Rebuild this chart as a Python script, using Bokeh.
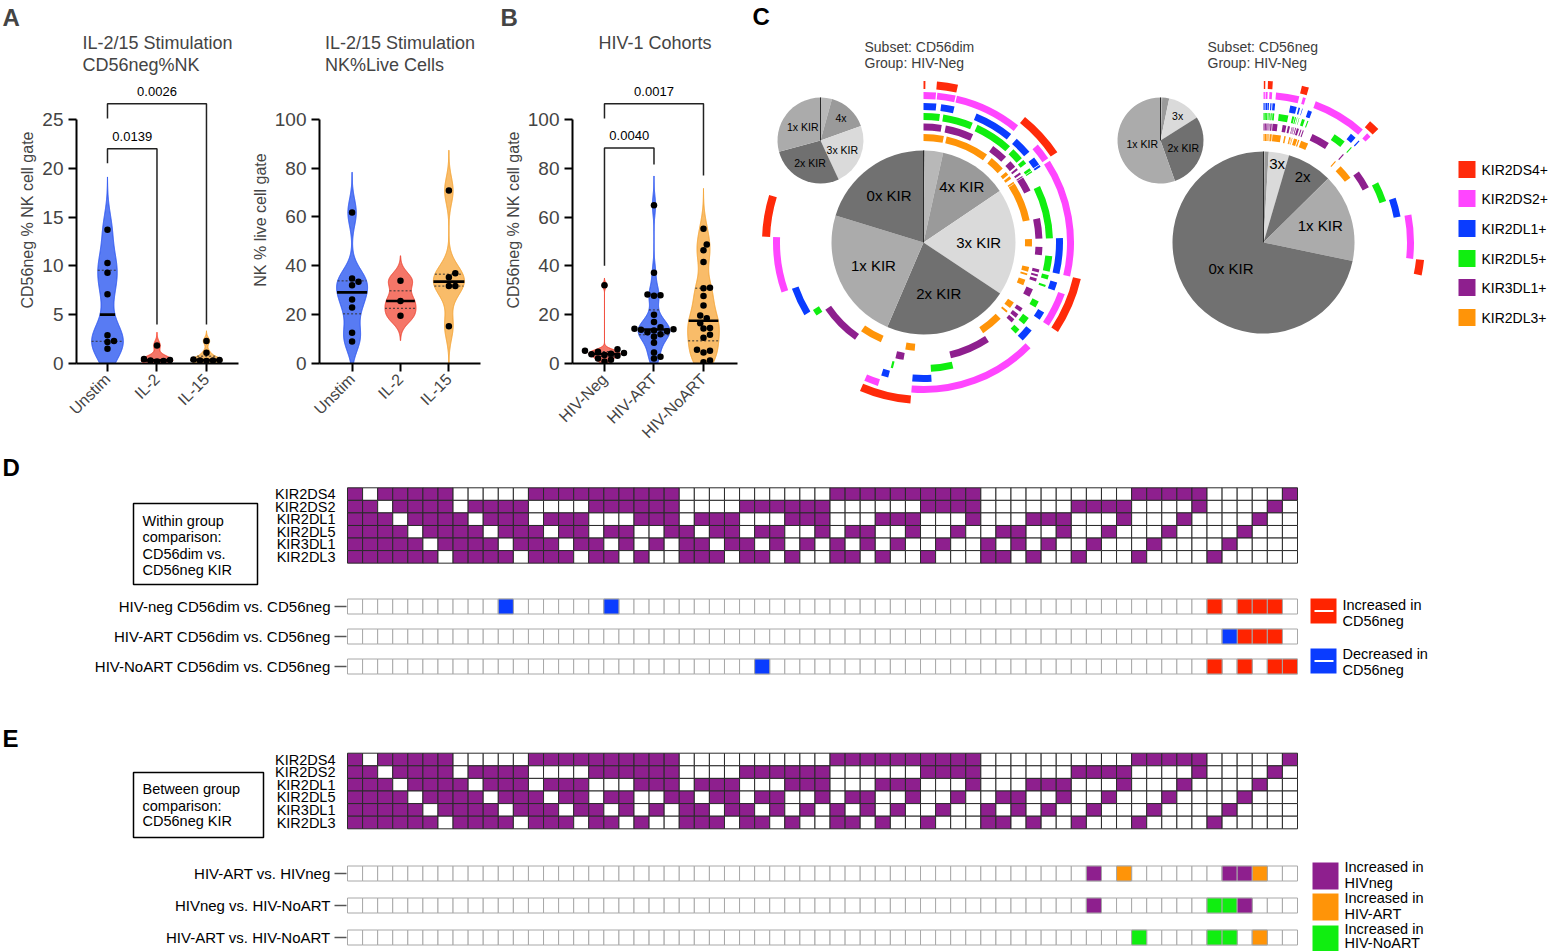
import numpy as np
from bokeh.plotting import figure
from bokeh.models import Range1d, FixedTicker, Title
from bokeh.layouts import column, row
from bokeh.embed import file_html
from bokeh.resources import INLINE
from bokeh.core.properties import value

FONT = "Liberation Sans"

# ---------------- data ----------------
A1_CATS = ["Unstim", "IL-2", "IL-15"]
A1_UNSTIM = [13.7, 10.3, 9.3, 7.1, 2.9, 2.3, 2.2, 1.5]
A1_IL2 = [1.85, 0.45, 0.35, 0.3, 0.25, 0.2]
A1_IL15 = [2.3, 1.1, 0.4, 0.35, 0.3, 0.3, 0.25]
A1_PAIRS = [(1, 2), (1, 3)]
A1_PVALS = ["0.0139", "0.0026"]
A1_BRACKET_Y = [22.0, 26.6]
A1_LEG_ENDS = [(20.5, 4.0), (25.1, 4.0)]

A2_CATS = ["Unstim", "IL-2", "IL-15"]
A2_UNSTIM = [61.8, 34.8, 33.5, 32.0, 26.2, 22.9, 12.6, 9.0]
A2_IL2 = [33.9, 25.6, 19.6]
A2_IL15 = [70.8, 37.0, 35.3, 31.7, 31.7, 15.3]

B_CATS = ["HIV-Neg", "HIV-ART", "HIV-NoART"]
B_NEG = [32.0, 5.8, 5.2, 4.8, 4.3, 4.0, 3.8, 3.5, 3.2, 2.0, 1.5, 0.8]
B_ART = [64.8, 37.2, 28.3, 28.0, 27.8, 20.0, 17.0, 14.8, 14.2, 14.0, 13.8,
         13.5, 13.2, 12.8, 12.0, 11.0, 8.5, 4.5, 2.8, 2.0]
B_NOART = [55.2, 48.7, 46.4, 41.6, 31.0, 30.8, 27.6, 23.8, 19.7, 18.5, 16.5,
           14.5, 14.3, 11.8, 10.5, 5.6, 5.2, 4.5, 1.2, 0.5]
B_PAIRS = [(1, 2), (1, 3)]
B_PVALS = ["0.0040", "0.0017"]
B_BRACKET_Y = [88.3, 106.4]
B_LEG_ENDS = [(40.0, 81.5), (100.3, 77.0)]

KIR_NAMES = ["KIR2DS4", "KIR2DS2", "KIR2DL1", "KIR2DL5", "KIR3DL1", "KIR2DL3"]
KIR_COMBOS = [
    "111111",
    "011111", "101111", "110111", "111011", "111101", "111110",
    "001111", "010111", "011011", "011101", "011110", "100111", "101011",
    "101101", "101110", "110011", "110101", "110110", "111001", "111010", "111100",
    "000111", "001011", "001101", "001110", "010011", "010101", "010110",
    "011001", "011010", "011100", "100011", "100101", "100110", "101001",
    "101010", "101100", "110001", "110010", "110100", "111000",
    "000011", "000101", "000110", "001001", "001010", "001100", "010001",
    "010010", "010100", "011000", "100001", "100010", "100100", "101000", "110000",
    "000001", "000010", "000100", "001000", "010000", "100000",
]
# % of cells per KIR combination (same order as KIR_COMBOS), plus 0x KIR
SPICE_DIM = [0.19,
             1.14, 0.14, 0.56, 0.42, 0.56, 0.42,
             0.14, 2.64, 0.64, 3.11, 0.86, 0.83, 0.56, 0.83, 0.69, 0.28, 0.28, 0.28, 0.42, 0.28, 0.28,
             0.08, 0.08, 0.08, 0.08, 1.94, 3.89, 2.78, 1.11, 1.11, 1.94,
             0.42, 0.28, 0.28, 0.28, 0.42, 0.28, 0.83, 1.11, 0.83, 0.97,
             0.56, 0.42, 0.56, 0.28, 0.56, 0.69, 3.33, 5.56, 2.78, 2.22, 1.39, 1.11, 0.28, 0.83, 1.53,
             3.33, 5.69, 0.83, 3.33, 5.97, 4.17]
SPICE_DIM_ZERO = 20.25
SPICE_NEG = [0.02,
             0.03, 0.02, 0.03, 0.02, 0.03, 0.03,
             0.06, 0.05, 0.04, 0.06, 0.05, 0.04, 0.06, 0.05, 0.04, 0.05, 0.06, 0.04, 0.05, 0.05, 0.04,
             0.11, 0.08, 0.11, 0.11, 0.56, 0.69, 0.50, 0.22, 0.28, 0.25,
             0.08, 0.08, 0.06, 0.06, 0.06, 0.06, 0.08, 0.11, 0.06, 0.06,
             0.28, 0.22, 0.14, 0.19, 0.14, 0.14, 1.11, 2.50, 1.53, 0.69, 0.17, 0.17, 0.14, 0.14, 0.50,
             2.22, 2.50, 2.50, 2.22, 4.72, 1.53]
SPICE_NEG_ZERO = 71.8

D_ROWS = ["HIV-neg CD56dim vs. CD56neg", "HIV-ART CD56dim vs. CD56neg",
          "HIV-NoART CD56dim vs. CD56neg"]
D_UP = [[58, 60, 61, 62], [60, 61, 62], [58, 60, 62, 63]]
D_DOWN = [[11, 18], [59], [28]]

E_ROWS = ["HIV-ART vs. HIVneg", "HIVneg vs. HIV-NoART", "HIV-ART vs. HIV-NoART"]
E_COLS = [[50, 52, 59, 60, 61], [50, 58, 59, 60], [53, 58, 59, 61]]
E_WINNER = [["HIVneg", "HIV-ART", "HIVneg", "HIVneg", "HIV-ART"],
            ["HIVneg", "HIV-NoART", "HIV-NoART", "HIVneg"],
            ["HIV-NoART", "HIV-NoART", "HIV-NoART", "HIV-ART"]]

# ---------------- styles ----------------
BLUE_F, BLUE_L = "#4A70F2", "#2B55F0"
RED_F, RED_L = "#F46A5B", "#F0402E"
ORA_F, ORA_L = "#F9B65C", "#F3A232"
PURPLE = "#8E1F8E"
KIR_COLORS = ["#FF2A0A", "#FF45FF", "#0A3CFF", "#10EE10", "#8E1F8E", "#FF9408"]
RING_R = [157.5, 147.0, 136.0, 126.0, 115.5, 105.0]
RING_T = [8.0, 7.0, 7.0, 7.0, 7.0, 7.0]
GROUP_GREY = {6: "#333333", 5: "#b8b8b8", 4: "#9a9a9a", 3: "#dadada",
              2: "#707070", 1: "#ababab", 0: "#717171"}
WIN_COLORS = {"HIVneg": PURPLE, "HIV-ART": "#FF9408", "HIV-NoART": "#10EE10"}

TOP_H = 450
FT, FB = 76, 86


def txt(p, x, y, t, size, align="left", baseline="middle", color="black",
        style="normal", yoff=0):
    p.text(x=list(x), y=list(y), text=list(t), text_align=align,
           text_baseline=baseline, text_font=value(FONT), text_font_size=size,
           text_color=color, text_font_style=style, y_offset=yoff)


def swarm(vals, sx, sy, d):
    vals = np.asarray(vals, float)
    cands = [0.0]
    for k in range(1, 14):
        cands += [k * 0.5 * d, -k * 0.5 * d]
    placed, off = [], np.zeros(len(vals))
    for i in np.argsort(vals):
        ypx = vals[i] * sy
        for c in cands:
            if all((c - a) ** 2 + (ypx - b) ** 2 >= (0.92 * d) ** 2 for a, b in placed):
                break
        placed.append((c, ypx))
        off[i] = c / sx
    return off


def violin_panel(width, bl, br, xr, yr, ybounds, yticks, ylabel, cats, groups,
                 bws, fills, lines, pairs, pvals, by, legs, title,
                 letter=None, letter_off=0):
    p = figure(width=width, height=TOP_H, x_range=Range1d(*xr), y_range=Range1d(*yr),
               min_border_left=bl, min_border_right=br, min_border_top=FT,
               min_border_bottom=FB, output_backend="svg", toolbar_location=None,
               title=None)
    p.xgrid.visible = False
    p.ygrid.visible = False
    p.outline_line_color = None
    p.background_fill_color = None
    p.border_fill_color = "white"
    p.add_layout(Title(text=title, align="center", text_font=FONT, text_font_size="18px",
                       text_font_style="normal", standoff=2,
                       text_line_height=1.12), "above")
    if letter:
        p.add_layout(Title(text=letter, align="left", offset=letter_off, text_font=FONT,
                           text_font_size="24px", text_font_style="bold", standoff=0,
                           text_line_height=1.0), "above")
    for ax in (p.xaxis[0], p.yaxis[0]):
        ax.axis_line_width = 2
        ax.major_tick_line_width = 2
        ax.major_tick_out = 8
        ax.major_tick_in = 0
        ax.minor_tick_line_color = None
        ax.major_label_text_font = FONT
        ax.axis_line_color = "black"
        ax.major_tick_line_color = "black"
    p.yaxis.bounds = ybounds
    p.yaxis.ticker = FixedTicker(ticks=yticks)
    p.yaxis.major_label_text_font_size = "19px"
    p.yaxis.axis_label = ylabel
    p.yaxis.axis_label_text_font = FONT
    p.yaxis.axis_label_text_font_size = "16px"
    p.yaxis.axis_label_text_font_style = "normal"
    p.yaxis.axis_label_standoff = 3
    p.xaxis.ticker = FixedTicker(ticks=[1, 2, 3])
    p.xaxis.major_label_overrides = {1: cats[0], 2: cats[1], 3: cats[2]}
    p.xaxis.major_label_orientation = np.pi / 4
    p.xaxis.major_label_text_font_size = "16px"

    fw = width - bl - br
    fh = TOP_H - FT - FB
    sx = fw / (xr[1] - xr[0])
    sy = fh / (yr[1] - yr[0])
    for i, (vals, bw, fc, lc) in enumerate(zip(groups, bws, fills, lines)):
        xc = i + 1
        v = np.asarray(vals, float)
        lo = max(0.0, v.min() - 3 * bw)
        hi = v.max() + 3 * bw
        ys = np.linspace(lo, hi, 400)
        dens = np.exp(-0.5 * ((ys[:, None] - v[None, :]) / bw) ** 2).sum(axis=1)
        w = dens / dens.max() * 0.32
        px = np.concatenate([xc - w, (xc + w)[::-1]])
        py = np.concatenate([ys, ys[::-1]])
        p.patch(px, py, fill_color=fc, fill_alpha=0.92, line_color=lc, line_width=1)
        q1, med, q3 = np.percentile(v, [25, 50, 75])
        for q in (q1, q3):
            hw = np.interp(q, ys, w)
            p.segment(x0=[xc - hw], y0=[q], x1=[xc + hw], y1=[q], line_color="#333333",
                      line_width=1, line_dash="2 2")
        hw = np.interp(med, ys, w)
        p.segment(x0=[xc - hw], y0=[med], x1=[xc + hw], y1=[med], line_color="black",
                  line_width=2.6)
        off = swarm(v, sx, sy, 6.5)
        p.scatter(x=xc + off, y=v, size=6.5, fill_color="black", line_color=None)
    for (g1, g2), t, yb, (l1, l2) in zip(pairs, pvals, by, legs):
        p.multi_line(xs=[[g1, g1, g2, g2]], ys=[[l1, yb, yb, l2]], line_color="#222222",
                     line_width=1.5)
        txt(p, [(g1 + g2) / 2], [yb], [t], "13px", align="center", baseline="bottom",
            yoff=-8)
    return p


pA1 = violin_panel(248, 76, 10, (0.374, 3.647), (0, 29.39), (0, 25), [0, 5, 10, 15, 20, 25],
                   "CD56neg % NK cell gate", A1_CATS, [A1_UNSTIM, A1_IL2, A1_IL15],
                   [1.8, 0.45, 0.35], [BLUE_F, RED_F, ORA_F], [BLUE_L, RED_L, ORA_L],
                   A1_PAIRS, A1_PVALS, A1_BRACKET_Y, A1_LEG_ENDS,
                   "IL-2/15 Stimulation\nCD56neg%NK", "A", -74)
pA2 = violin_panel(242, 69, 10, (0.327, 3.653), (0, 117.5), (0, 100), [0, 20, 40, 60, 80, 100],
                   "NK % live cell gate", A2_CATS, [A2_UNSTIM, A2_IL2, A2_IL15],
                   [5.5, 3.4, 5.5], [BLUE_F, RED_F, ORA_F], [BLUE_L, RED_L, ORA_L],
                   [], [], [], [], "IL-2/15 Stimulation\nNK%Live Cells")
pB = violin_panel(255, 82, 8, (0.354, 3.687), (0, 117.55), (0, 100), [0, 20, 40, 60, 80, 100],
                  "CD56neg % NK cell gate", B_CATS, [B_NEG, B_ART, B_NOART],
                  [1.0, 4.0, 5.5], [RED_F, BLUE_F, ORA_F], [RED_L, BLUE_L, ORA_L],
                  B_PAIRS, B_PVALS, B_BRACKET_Y, B_LEG_ENDS, "HIV-1 Cohorts\n\u00a0",
                  "B", -72)

# ---------------- panel C (SPICE pies) ----------------
C_W, C_X0 = 812, 745
pC = figure(width=C_W, height=TOP_H, x_range=Range1d(0, C_W), y_range=Range1d(0, TOP_H),
            x_axis_location=None, y_axis_location=None, min_border=0,
            output_backend="svg", toolbar_location=None, title=None)
pC.outline_line_color = None
pC.grid.visible = False


def cX(ref_x):
    return ref_x - C_X0


def cY(ref_y):
    return TOP_H - ref_y


def spice(p, cx0, cy0, r, freqs, zero, labels, fracs, size, rings):
    counts = [c.count("1") for c in KIR_COMBOS]
    vals = list(freqs)
    if zero is not None:
        counts = counts + [0]
        vals = vals + [zero]
    vals = np.asarray(vals, float)
    edges = np.concatenate([[0.0], np.cumsum(vals) / vals.sum() * 2 * np.pi])
    st, en, cols, lx, ly, lt = [], [], [], [], [], []
    for k in [6, 5, 4, 3, 2, 1, 0]:
        idx = [i for i, c in enumerate(counts) if c == k]
        if not idx:
            continue
        a0, a1 = edges[idx[0]], edges[idx[-1] + 1]
        st.append(np.pi / 2 - a0)
        en.append(np.pi / 2 - a1)
        cols.append(GROUP_GREY[k])
        if k in labels:
            mid = (a0 + a1) / 2
            lx.append(cx0 + fracs[k] * r * np.sin(mid))
            ly.append(cy0 + fracs[k] * r * np.cos(mid))
            lt.append(labels[k])
    p.wedge(x=cx0, y=cy0, radius=r, start_angle=st, end_angle=en, direction="clock",
            fill_color=cols, line_color=None)
    p.segment(x0=[cx0], y0=[cy0], x1=[cx0], y1=[cy0 + r], line_color="#2a2a2a",
              line_width=1)
    txt(p, lx, ly, lt, size, align="center")
    if rings:
        for j in range(6):
            pos = [c[j] == "1" for c in KIR_COMBOS] + [False]
            runs, i = [], 0
            while i < len(pos):
                if pos[i]:
                    s = i
                    while i < len(pos) and pos[i]:
                        i += 1
                    runs.append((edges[s], edges[i]))
                else:
                    i += 1
            p.annular_wedge(x=cx0, y=cy0, inner_radius=RING_R[j] - RING_T[j] / 2,
                            outer_radius=RING_R[j] + RING_T[j] / 2,
                            start_angle=[np.pi / 2 - a for a, _ in runs],
                            end_angle=[np.pi / 2 - b for _, b in runs],
                            direction="clock", fill_color=KIR_COLORS[j], line_color=None)


spice(pC, cX(923), cY(242), 92, SPICE_DIM, SPICE_DIM_ZERO,
      {4: "4x KIR", 3: "3x KIR", 2: "2x KIR", 1: "1x KIR", 0: "0x KIR"},
      {4: 0.74, 3: 0.6, 2: 0.58, 1: 0.6, 0: 0.63}, "15px", True)
spice(pC, cX(820), cY(140), 43, SPICE_DIM, None,
      {4: "4x", 3: "3x KIR", 2: "2x KIR", 1: "1x KIR"},
      {4: 0.7, 3: 0.55, 2: 0.58, 1: 0.52}, "10.5px", False)
spice(pC, cX(1263), cY(242), 91, SPICE_NEG, SPICE_NEG_ZERO,
      {3: "3x", 2: "2x", 1: "1x KIR", 0: "0x KIR"},
      {3: 0.88, 2: 0.84, 1: 0.65, 0: 0.46}, "15px", True)
spice(pC, cX(1160), cY(140), 43, SPICE_NEG, None,
      {3: "3x", 2: "2x KIR", 1: "1x KIR"},
      {3: 0.7, 2: 0.56, 1: 0.43}, "10.5px", False)

txt(pC, [cX(864), cX(864), cX(1207), cX(1207)], [cY(46), cY(62), cY(46), cY(62)],
    ["Subset: CD56dim", "Group: HIV-Neg", "Subset: CD56neg", "Group: HIV-Neg"],
    "14px", color="#3c3c3c")
txt(pC, [cX(752)], [cY(16)], ["C"], "24px", style="bold")
LEG_Y = [169, 198, 228, 258, 287, 317]
pC.rect(x=cX(1466.5), y=[cY(v) for v in LEG_Y], width=17, height=17, fill_color=KIR_COLORS,
        line_color=None)
txt(pC, [cX(1481)] * 6, [cY(v) for v in LEG_Y], [k + "+" for k in KIR_NAMES], "14px")

# ---------------- panels D and E (heat maps) ----------------
CELL_W = 950 / 63
GRID_X0 = 347
FULL_W = 1557
XS = 0.5 - GRID_X0 / CELL_W
XE = XS + FULL_W / CELL_W


def cx(ref_x):
    return 0.5 + (ref_x - GRID_X0) / CELL_W


def heat_panel(top_ref, height, grid_top, row_h, letter, letter_y, box, box_lines,
               comp_labels, comp_y, comp_cells, legend):
    bottom = top_ref + height

    def Y(ref_y):
        return bottom - ref_y

    p = figure(width=FULL_W, height=height, x_range=Range1d(XS, XE), y_range=Range1d(0, height),
               x_axis_location=None, y_axis_location=None, min_border=0,
               output_backend="svg", toolbar_location=None, title=None)
    p.outline_line_color = None
    p.grid.visible = False
    gx, gy, gf = [], [], []
    for r in range(6):
        for ci, combo in enumerate(KIR_COMBOS):
            gx.append(ci + 1)
            gy.append(Y(grid_top + (r + 0.5) * row_h))
            gf.append(PURPLE if combo[r] == "1" else "white")
    p.rect(x=gx, y=gy, width=1, height=row_h, fill_color=gf, line_color="#2a2a2a",
           line_width=1)
    txt(p, [cx(335)] * 6, [Y(grid_top + (r + 0.5) * row_h) for r in range(6)], KIR_NAMES,
        "14.5px", align="right")
    bx0, bx1, by0, by1 = box
    p.quad(left=cx(bx0), right=cx(bx1), top=Y(by0), bottom=Y(by1), fill_color=None,
           line_color="black", line_width=1.5)
    txt(p, [cx(bx0 + 9)] * len(box_lines), [Y(v) for _, v in box_lines],
        [t for t, _ in box_lines], "14.5px")
    txt(p, [cx(2)], [Y(letter_y)], [letter], "24px", style="bold")
    cols = list(range(1, 64))
    for lab, yc, cells in zip(comp_labels, comp_y, comp_cells):
        p.rect(x=cols, y=Y(yc), width=1, height=15, fill_color="white",
               line_color="#a8a8a8", line_width=1)
        if cells:
            p.rect(x=[c for c, _ in cells], y=Y(yc), width=1, height=15,
                   fill_color=[col for _, col in cells], line_color="#a8a8a8", line_width=1)
        p.segment(x0=[cx(334)], y0=[Y(yc)], x1=[cx(346)], y1=[Y(yc)], line_color="#555555",
                  line_width=1.5)
        txt(p, [cx(330)], [Y(yc)], [lab], "15px", align="right")
    for (x0, x1, y0, y1, col, split, lines) in legend:
        p.quad(left=cx(x0), right=cx(x1), top=Y(y0), bottom=Y(y1), fill_color=col,
               line_color=None)
        if split:
            ym = (y0 + y1) / 2
            p.segment(x0=[cx(x0 + 4)], y0=[Y(ym)], x1=[cx(x1 - 3)], y1=[Y(ym)],
                      line_color="white", line_width=2)
        txt(p, [cx(x1 + 6)] * len(lines), [Y(v) for _, v in lines], [t for t, _ in lines],
            "14.5px")
    return p


d_cells = []
for up, down in zip(D_UP, D_DOWN):
    d_cells.append([(c, "#FF2400") for c in up] + [(c, "#0A3CFF") for c in down])
pD = heat_panel(450, 250, 487.3, 12.56, "D", 467, (133, 257, 503, 584),
                [("Within group", 520), ("comparison:", 536), ("CD56dim vs.", 553),
                 ("CD56neg KIR", 569)],
                D_ROWS, [606, 636, 666], d_cells,
                [(1310, 1336, 598, 623, "#FF2400", True, [("Increased in", 604), ("CD56neg", 620)]),
                 (1310, 1336, 648, 673, "#0A3CFF", True, [("Decreased in", 653), ("CD56neg", 669)])])

e_cells = []
for cs, ws in zip(E_COLS, E_WINNER):
    e_cells.append([(c, WIN_COLORS[w]) for c, w in zip(cs, ws)])
pE = heat_panel(700, 251, 752.7, 12.6, "E", 738, (133, 263, 772, 837),
                [("Between group", 788), ("comparison:", 805), ("CD56neg KIR", 820)],
                E_ROWS, [873, 905, 937], e_cells,
                [(1312, 1338, 862, 889, PURPLE, False, [("Increased in", 866), ("HIVneg", 882)]),
                 (1312, 1338, 893, 920, "#FF9408", False, [("Increased in", 897), ("HIV-ART", 913)]),
                 (1312, 1338, 925, 951, "#10EE10", False, [("Increased in", 928), ("HIV-NoART", 942)])])

top = row(row(pA1, pA2, pB, spacing=0), pC, spacing=0)
layout = column(top, pD, pE, spacing=0)
open("out.html", "w").write(file_html(layout, INLINE))
